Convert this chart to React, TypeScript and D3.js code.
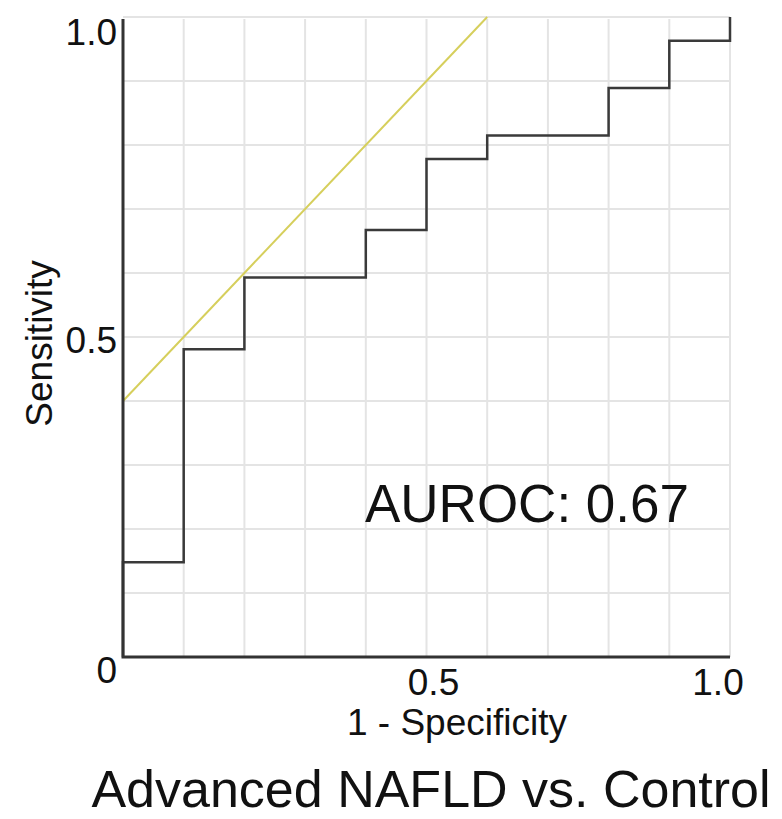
import { useEffect, useRef } from "react";
import * as d3 from "d3";

// ROC curve points (1 - specificity, sensitivity)
const FPR = [0, 0, 0.1, 0.2, 0.4, 0.5, 0.6, 0.8, 0.9, 1.0];
const TPR = [0, 0.148, 0.481, 0.593, 0.667, 0.778, 0.815, 0.889, 0.963, 1.0];

// yellow reference line endpoints
const REF_X = [0, 0.6];
const REF_Y = [0.4, 1.0];

const GRID_TICKS = [0.1, 0.2, 0.3, 0.4, 0.5, 0.6, 0.7, 0.8, 0.9, 1.0];
const X_TICKS = [0.5, 1.0];
const X_TICK_LABELS = ["0.5", "1.0"];
const Y_TICKS = [0, 0.5, 1.0];
const Y_TICK_LABELS = ["0", "0.5", "1.0"];

const TITLE = "Advanced NAFLD vs. Control";
const X_LABEL = "1 - Specificity";
const Y_LABEL = "Sensitivity";
const AUROC_TEXT = "AUROC: 0.67";

const W = 782;
const H = 819;
const FONT = "'Liberation Sans', Arial, Helvetica, sans-serif";

export default function App() {
  const svgRef = useRef<SVGSVGElement>(null);

  useEffect(() => {
    const svg = d3.select(svgRef.current);
    svg.selectAll("*").remove();

    const x = d3.scaleLinear().domain([0, 1]).range([123, 730]);
    const y = d3.scaleLinear().domain([0, 1]).range([657, 17]);

    // ----- grid -----
    const grid = svg.append("g").attr("stroke", "#e4e4e4").attr("stroke-width", 2);
    GRID_TICKS.forEach((t) => {
      grid.append("line")
        .attr("x1", x(t)).attr("x2", x(t))
        .attr("y1", y(0)).attr("y2", y(1) + 2);
      grid.append("line")
        .attr("x1", x(0)).attr("x2", x(1))
        .attr("y1", y(t)).attr("y2", y(t));
    });

    // ----- reference line -----
    const pts = REF_X.map((v, i) => [v, REF_Y[i]] as [number, number]);
    svg.append("path")
      .datum(pts)
      .attr("fill", "none")
      .attr("stroke", "#d6cf5c")
      .attr("stroke-width", 2)
      .attr("d", d3.line().x((d) => x(d[0])).y((d) => y(d[1])));

    // ----- ROC step curve -----
    const roc = FPR.map((v, i) => [v, TPR[i]] as [number, number]);
    svg.append("path")
      .datum(roc)
      .attr("fill", "none")
      .attr("stroke", "#3a3a3a")
      .attr("stroke-width", 2.5)
      .attr("d", d3.line().curve(d3.curveStepAfter).x((d) => x(d[0])).y((d) => y(d[1])));

    // ----- axes -----
    svg.append("path")
      .attr("fill", "none")
      .attr("stroke", "#333")
      .attr("stroke-width", 3)
      .attr("d", `M${x(0)},${y(1) + 2}V${y(0)}H${x(1)}`);

    const txt = (s: string, tx: number, ty: number, size: number, anchor: string) =>
      svg.append("text")
        .attr("x", tx).attr("y", ty)
        .attr("font-family", FONT)
        .attr("font-size", size)
        .attr("fill", "#111")
        .attr("text-anchor", anchor)
        .text(s);

    // y tick labels (end-aligned, 0 and 1.0 nudged inward like the source)
    const yShift = [26, 16, 28];
    Y_TICKS.forEach((t, i) => txt(Y_TICK_LABELS[i], 117, y(t) + yShift[i], 37, "end"));

    // x tick labels
    const xShift = [7, -12];
    X_TICKS.forEach((t, i) => txt(X_TICK_LABELS[i], x(t) + xShift[i], 695, 37, "middle"));

    txt(X_LABEL, 457, 735, 37, "middle");

    svg.append("text")
      .attr("transform", `translate(52,${y(0.49)}) rotate(-90)`)
      .attr("font-family", FONT)
      .attr("font-size", 37)
      .attr("fill", "#111")
      .attr("text-anchor", "middle")
      .text(Y_LABEL);

    txt(AUROC_TEXT, 527, 522, 53, "middle");
    txt(TITLE, 431, 807, 52, "middle");
  }, []);

  return (
    <svg
      ref={svgRef}
      width={W}
      height={H}
      style={{ position: "absolute", left: 0, top: 0, background: "#fff" }}
    />
  );
}
